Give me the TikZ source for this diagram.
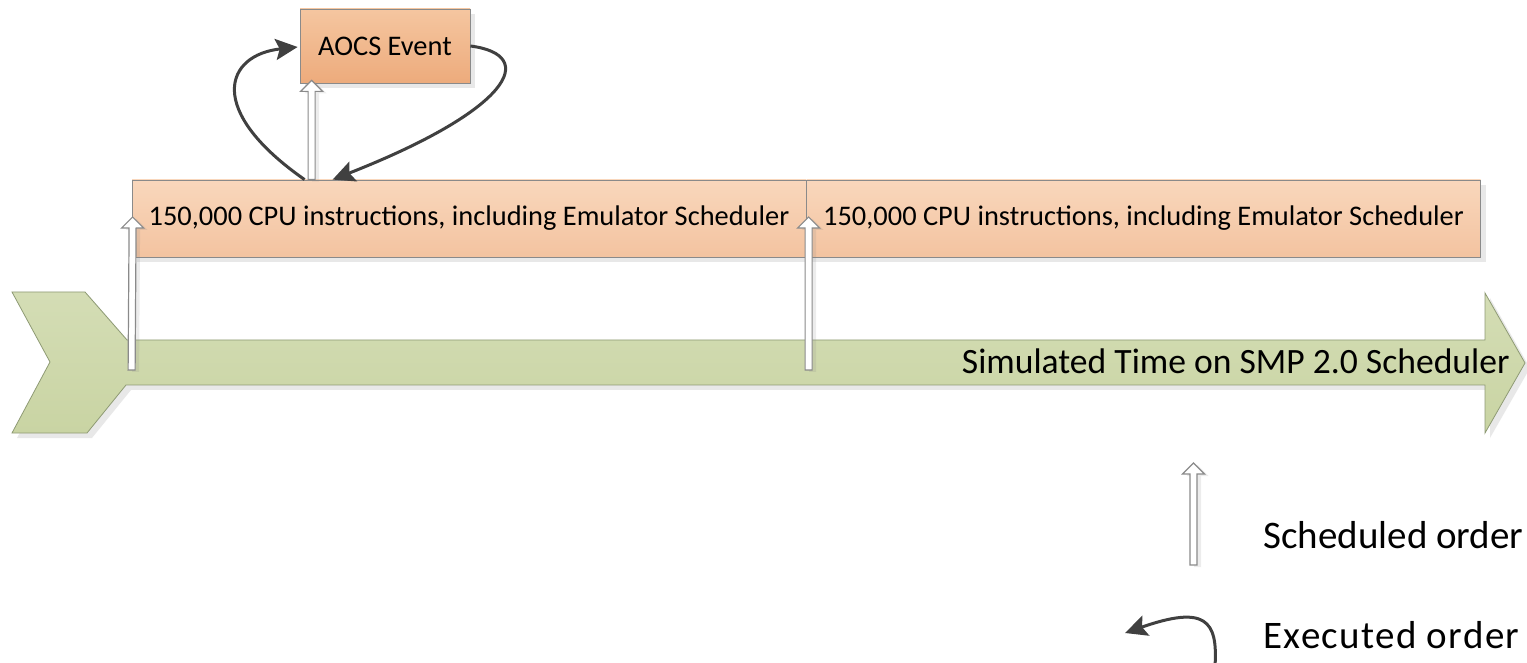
\documentclass[tikz,border=0pt]{standalone}
\usepackage{fontspec}
\setmainfont{Carlito}
\usetikzlibrary{calc, positioning, shadows, arrows.meta}

\definecolor{peachtop}{HTML}{F9D7BC}
\definecolor{peachbot}{HTML}{F3C3A0}
\definecolor{orangetop}{HTML}{F5C6A0}
\definecolor{orangebot}{HTML}{EDAB7C}
\definecolor{greentop}{HTML}{D4DDB5}
\definecolor{greenbot}{HTML}{C9D4A3}
\definecolor{greenline}{HTML}{8E9A74}
\definecolor{boxline}{HTML}{8A8A8A}
\definecolor{execline}{HTML}{404040}

% hollow block arrow from #1 (tail) up to #2 (tip)
\newcommand{\schedarrow}[2]{%
  \draw[sched] ($(#1)+(-3.5,0)$) -- ($(#2)+(-3.5,11)$) -- ($(#2)+(-11,11)$) -- (#2)
    -- ($(#2)+(11,11)$) -- ($(#2)+(3.5,11)$) -- ($(#1)+(3.5,0)$) -- cycle;}

\begin{document}
\begin{tikzpicture}[
    x = 0.5pt, y = -0.5pt,
    every node/.style = {inner sep = 0pt},
    shade/.style = {drop shadow = {opacity = 0.18, shadow xshift = 2.5pt, shadow yshift = -2.5pt}},
    bar/.style = {draw = boxline, shade, top color = peachtop, bottom color = peachbot,
                  minimum width = 337pt, minimum height = 38.5pt,
                  font = \fontsize{14.2}{17}\selectfont},
    event/.style = {draw = boxline, shade, top color = orangetop, bottom color = orangebot,
                    minimum width = 85pt, minimum height = 37pt,
                    font = \fontsize{14.2}{17}\selectfont},
    timeline/.style = {draw = greenline, shade, top color = greentop, bottom color = greenbot},
    sched/.style = {draw = boxline, fill = white, line width = 0.6pt,
                    drop shadow = {opacity = 0.15, shadow xshift = 2pt, shadow yshift = -1pt}},
    exec/.style = {draw = execline, line width = 1.5pt,
                   -{Stealth[length = 11pt, width = 10.5pt, inset = 2pt]}},
    legend/.style = {anchor = base west, font = \fontsize{19.5}{23}\selectfont}
  ]
  \useasboundingbox (0,0) rectangle (1527,663);

  % time line on the SMP scheduler
  \path[timeline] (12,292) -- (85,292) -- (127,340) -- (1485,340) -- (1485,293)
    -- (1525,363) -- (1485,433) -- (1485,385) -- (126,385) -- (87,433)
    -- (12,433) -- (50,362) -- cycle;
  \node[anchor = base east, font = \fontsize{17.8}{21}\selectfont] (smp) at (1510,373)
    {Simulated Time on SMP 2.0 Scheduler};

  % emulator slices
  \node[bar] (bar1) at (469,218.5) {150,000 CPU instructions, including Emulator Scheduler};
  \node[bar] (bar2) at (1143.5,218.5) {150,000 CPU instructions, including Emulator Scheduler};
  \node[event] (aocs) at (385,46) {AOCS Event};

  \coordinate (t0) at (bar1.west |- 0,370);
  \coordinate (t1) at ($(bar2.west |- 0,370)+(2.5,0)$);

  % scheduled order
  \schedarrow{t0}{$(bar1.west)+(1,-1.5)$}
  \schedarrow{t1}{$(bar2.west)+(2.5,-1.5)$}
  \schedarrow{$(bar1.north west)+(180,0)$}{$(aocs.south west)+(12,-3)$}

  % executed order
  \coordinate (loopA) at ($(bar1.north west)+(173,0)$);
  \coordinate (loopB) at ($(bar1.north west)+(201,0)$);
  \draw[exec] (loopA) .. controls (205,110) and (225,55) .. ($(aocs.west)+(-2,1)$);
  \draw[exec] (aocs.east) .. controls (540,55) and (510,110) .. (loopB);

  % legend
  \coordinate (legS) at (1193.5,565);
  \coordinate (legT) at (1193.5,463);
  \coordinate (legA) at (1215,666);
  \coordinate (legB) at (1125,633);
  \schedarrow{legS}{legT}
  \draw[exec] (legA) .. controls (1218,620) and (1205,605) .. (legB);
  \node[legend] (legSched) at (1263,548) {Scheduled order};
  \node[legend] (legExec) at (1263,648) {\addfontfeature{LetterSpace=3.5}Executed order};
\end{tikzpicture}
\end{document}
